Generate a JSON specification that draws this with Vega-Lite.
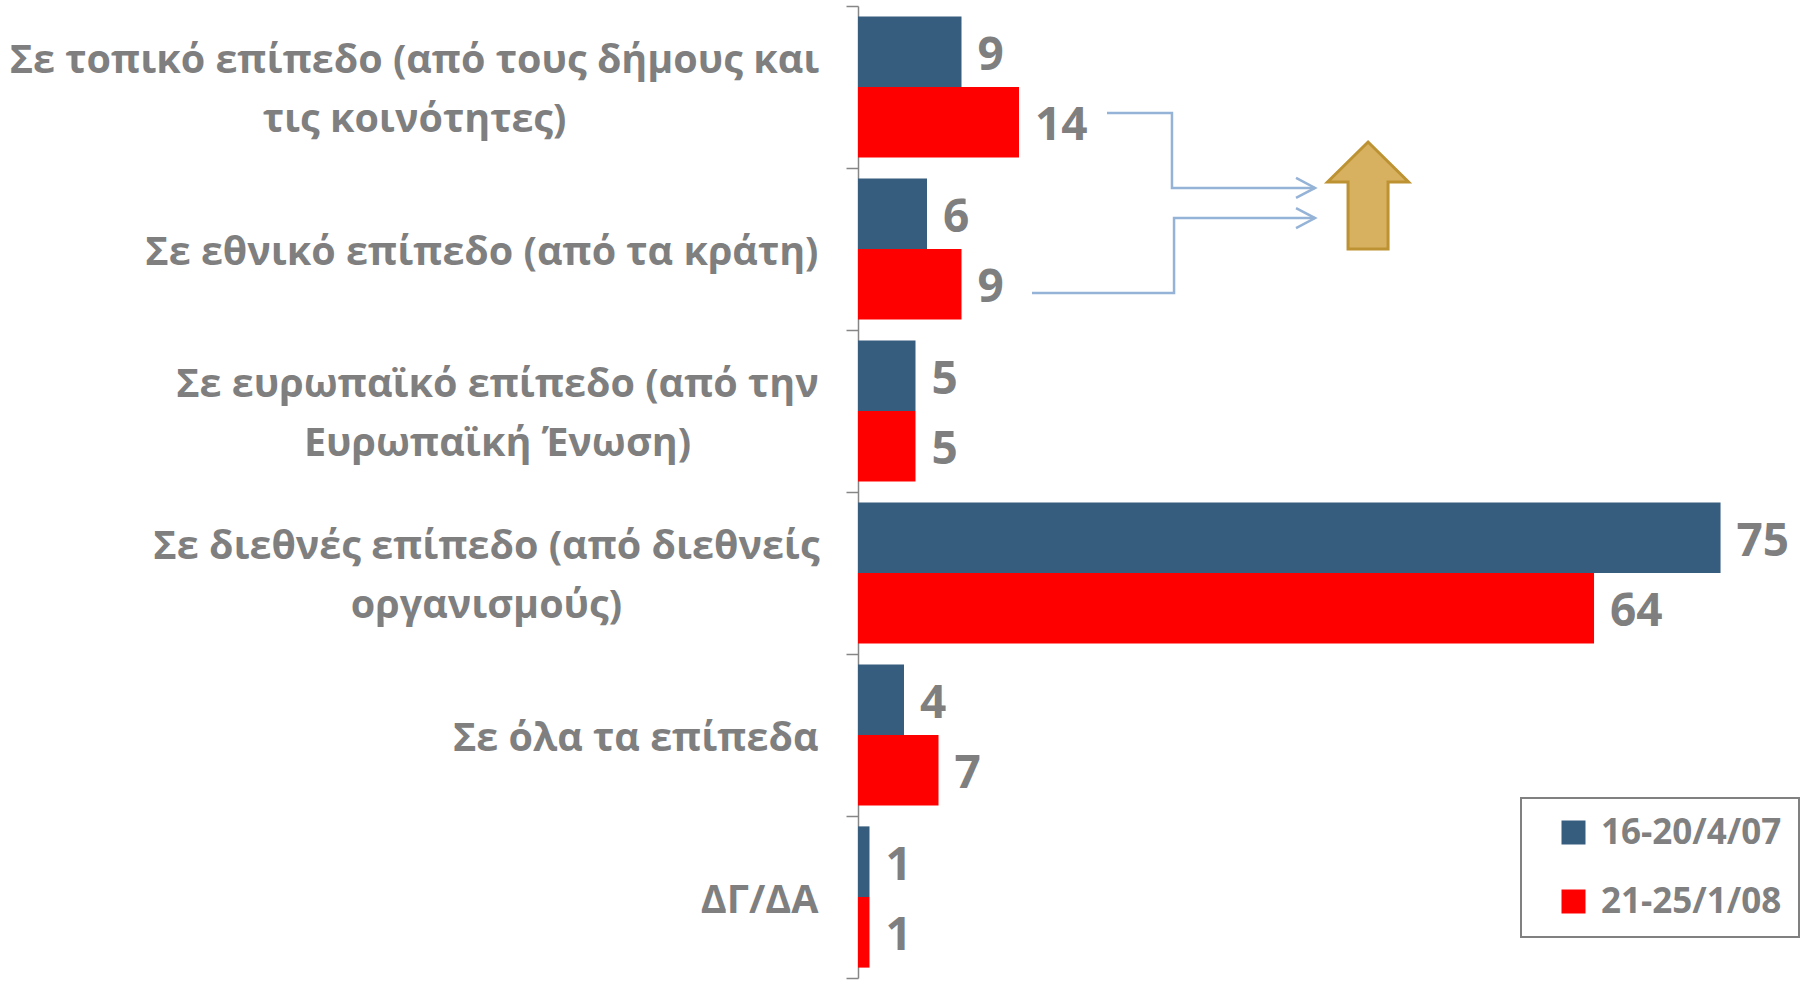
{
  "$schema": "https://vega.github.io/schema/vega-lite/v6.json",
  "autosize": {"type": "none"},
  "width": 958,
  "height": 972,
  "padding": {"left": 858, "top": 6, "right": 0, "bottom": 3},
  "background": "white",
  "config": {"view": {"stroke": null}},
  "datasets": {
    "bars": [
      {"category": "Σε τοπικό επίπεδο (από τους δήμους και\nτις κοινότητες)", "period": "16-20/4/07", "value": 9},
      {"category": "Σε τοπικό επίπεδο (από τους δήμους και\nτις κοινότητες)", "period": "21-25/1/08", "value": 14},
      {"category": "Σε εθνικό επίπεδο (από τα κράτη)", "period": "16-20/4/07", "value": 6},
      {"category": "Σε εθνικό επίπεδο (από τα κράτη)", "period": "21-25/1/08", "value": 9},
      {"category": "Σε ευρωπαϊκό επίπεδο (από την\nΕυρωπαϊκή Ένωση)", "period": "16-20/4/07", "value": 5},
      {"category": "Σε ευρωπαϊκό επίπεδο (από την\nΕυρωπαϊκή Ένωση)", "period": "21-25/1/08", "value": 5},
      {"category": "Σε διεθνές επίπεδο (από διεθνείς\nοργανισμούς)", "period": "16-20/4/07", "value": 75},
      {"category": "Σε διεθνές επίπεδο (από διεθνείς\nοργανισμούς)", "period": "21-25/1/08", "value": 64},
      {"category": "Σε όλα τα επίπεδα", "period": "16-20/4/07", "value": 4},
      {"category": "Σε όλα τα επίπεδα", "period": "21-25/1/08", "value": 7},
      {"category": "ΔΓ/ΔΑ", "period": "16-20/4/07", "value": 1},
      {"category": "ΔΓ/ΔΑ", "period": "21-25/1/08", "value": 1}
    ],
    "connectors": [
      {"path": "a", "ord": 0, "ax": 21.65, "ay": 0.66},
      {"path": "a", "ord": 1, "ax": 27.3, "ay": 0.66},
      {"path": "a", "ord": 2, "ax": 27.3, "ay": 1.123},
      {"path": "a", "ord": 3, "ax": 39.74, "ay": 1.123},
      {"path": "b", "ord": 0, "ax": 15.13, "ay": 1.772},
      {"path": "b", "ord": 1, "ax": 27.48, "ay": 1.772},
      {"path": "b", "ord": 2, "ax": 27.48, "ay": 1.309},
      {"path": "b", "ord": 3, "ax": 39.74, "ay": 1.309}
    ],
    "heads": [
      {"path": "a", "ax": 39.74, "ay": 1.123},
      {"path": "b", "ax": 39.74, "ay": 1.309}
    ],
    "trend": [
      {"label": "up", "ax": 44.35, "ay": 1.17}
    ]
  },
  "layer": [
    {
      "data": {"name": "bars"},
      "layer": [
        {
          "mark": {"type": "bar"},
          "encoding": {
            "y": {
              "field": "category", "type": "nominal", "sort": null,
              "scale": {"paddingInner": 0, "paddingOuter": 0},
              "axis": {
                "title": null,
                "grid": false,
                "tickBand": "extent",
                "ticks": true,
                "tickSize": 12,
                "tickColor": "#868686",
                "tickWidth": 1.5,
                "domainColor": "#868686",
                "domainWidth": 1.5,
                "labelExpr": "isValid(datum.value) ? split(datum.value, '\\n') : ''",
                "labelFont": "Open Sans",
                "labelFontSize": 39.5,
                "labelFontWeight": "bold",
                "labelColor": "#7f7f7f",
                "labelLineHeight": 59,
                "labelLimit": 0,
                "labelBaseline": "middle",
                "labelAlign": {
                  "condition": {"test": "isValid(datum.value) && indexof(datum.value, '\\n') >= 0", "value": "center"},
                  "value": "right"
                },
                "labelPadding": {
                  "condition": [
                    {"test": "isValid(datum.value) && indexof(datum.value, 'τοπικό') >= 0", "value": 432},
                    {"test": "isValid(datum.value) && indexof(datum.value, 'ευρωπαϊκό') >= 0", "value": 349},
                    {"test": "isValid(datum.value) && indexof(datum.value, 'διεθνές') >= 0", "value": 360}
                  ],
                  "value": 28
                },
                "labelOffset": {
                  "condition": {"test": "isValid(datum.value) && indexof(datum.value, '\\n') >= 0", "value": -26.5},
                  "value": 3
                }
              }
            },
            "yOffset": {
              "field": "period", "type": "nominal",
              "sort": ["16-20/4/07", "21-25/1/08"],
              "scale": {"paddingInner": 0, "paddingOuter": 0.147}
            },
            "x": {
              "field": "value", "type": "quantitative",
              "scale": {"domain": [0, 83.3], "nice": false, "zero": true},
              "axis": null
            },
            "color": {
              "field": "period", "type": "nominal",
              "scale": {"domain": ["16-20/4/07", "21-25/1/08"], "range": ["#365D7E", "#FF0000"]},
              "legend": {
                "title": null,
                "orient": "none",
                "legendX": 663,
                "legendY": 792,
                "fillColor": "white",
                "strokeColor": "#808080",
                "padding": 17,
                "symbolOffset": 18,
                "symbolType": "square",
                "symbolSize": 576,
                "symbolStrokeWidth": 0,
                "labelFont": "Open Sans",
                "labelFontSize": 35,
                "labelFontWeight": "bold",
                "labelColor": "#808080",
                "labelOffset": 10,
                "labelLimit": 0,
                "rowPadding": 33,
                "encode": {"legend": {"update": {"strokeWidth": {"value": 2}}}}
              }
            }
          }
        },
        {
          "mark": {"type": "text", "align": "left", "baseline": "middle", "dx": 16, "dy": 4, "font": "Open Sans", "fontSize": 46, "fontWeight": "bold", "color": "#7f7f7f"},
          "encoding": {
            "y": {"field": "category", "type": "nominal", "sort": null},
            "yOffset": {"field": "period", "type": "nominal", "sort": ["16-20/4/07", "21-25/1/08"]},
            "x": {"field": "value", "type": "quantitative"},
            "text": {"field": "value", "type": "quantitative"}
          }
        }
      ]
    },
    {
      "layer": [
        {
          "data": {"name": "connectors"},
          "mark": {"type": "line", "color": "#95B3D7", "strokeWidth": 2.5, "interpolate": "linear"},
          "encoding": {
            "x": {"field": "ax", "type": "quantitative"},
            "y": {"field": "ay", "type": "quantitative", "scale": {"domain": [0, 6], "reverse": true, "nice": false, "zero": false}, "axis": null},
            "detail": {"field": "path", "type": "nominal"},
            "order": {"field": "ord", "type": "quantitative"}
          }
        },
        {
          "data": {"name": "heads"},
          "mark": {"type": "point", "shape": "M-1.9,-1L0,0L-1.9,1", "size": 400, "filled": false, "fill": null, "stroke": "#95B3D7", "strokeWidth": 2.5, "opacity": 1},
          "encoding": {
            "x": {"field": "ax", "type": "quantitative"},
            "y": {"field": "ay", "type": "quantitative"}
          }
        },
        {
          "data": {"name": "trend"},
          "mark": {"type": "point", "shape": "M0,-1L0.757,-0.252L0.374,-0.252L0.374,1L-0.374,1L-0.374,-0.252L-0.757,-0.252Z", "size": 11449, "filled": true, "fill": "#D8B160", "stroke": "#BD9232", "strokeWidth": 3, "opacity": 1},
          "encoding": {
            "x": {"field": "ax", "type": "quantitative"},
            "y": {"field": "ay", "type": "quantitative"}
          }
        }
      ]
    }
  ],
  "resolve": {"scale": {"y": "independent"}}
}
